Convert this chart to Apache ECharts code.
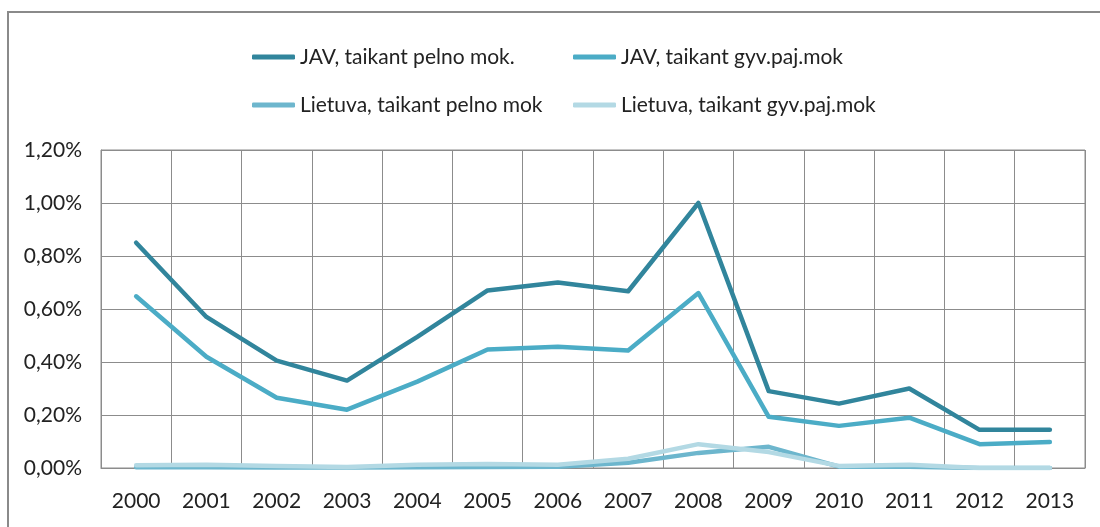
<!DOCTYPE html>
<html>
<head>
<meta charset="utf-8">
<script src="https://cdn.jsdelivr.net/npm/echarts@6/dist/echarts.min.js"></script>
<style>
  html, body { margin: 0; padding: 0; background: #fff; }
  #wrap { position: relative; width: 1100px; height: 527px; }
  #chart { position: absolute; left: 0; top: 0; width: 1100px; height: 527px; }
  #frame { position: absolute; left: 7px; top: 11px; width: 1100px; height: 530px;
           border-top: 2px solid #8a8a8a; border-left: 2px solid #8a8a8a; pointer-events: none; }
</style>
</head>
<body>
<div id="wrap">
  <div id="chart"></div>
  <div id="frame"></div>
</div>
<script>
// Years on the horizontal axis
const years = ['2000','2001','2002','2003','2004','2005','2006','2007','2008','2009','2010','2011','2012','2013'];

// Series names
const seriesNames = [
  'JAV, taikant pelno mok.',
  'JAV, taikant gyv.paj.mok',
  'Lietuva, taikant pelno mok',
  'Lietuva, taikant gyv.paj.mok'
];

// Values in percent
const usProfitTax   = [0.85, 0.57, 0.405, 0.33, 0.495, 0.67, 0.70, 0.667, 1.00, 0.29, 0.243, 0.30, 0.144, 0.144];
const usIncomeTax   = [0.648, 0.42, 0.265, 0.22, 0.326, 0.447, 0.458, 0.443, 0.66, 0.193, 0.159, 0.19, 0.09, 0.098];
const ltProfitTax   = [0.003, 0.003, 0.002, 0.002, 0.003, 0.004, 0.005, 0.02, 0.057, 0.08, 0.005, 0.005, 0.0, 0.0];
const ltIncomeTax   = [0.01, 0.012, 0.008, 0.004, 0.012, 0.015, 0.012, 0.035, 0.09, 0.06, 0.008, 0.012, 0.0, 0.0];

// Y axis ticks
const yMin = 0, yMax = 1.2, yStep = 0.2;

const colors = ['#31859C', '#4BACC6', '#6DB6CD', '#B3D9E4'];
const font = 'Lato, "Open Sans", sans-serif';

const chart = echarts.init(document.getElementById('chart'), null, { renderer: 'canvas' });

const legendPos = [
  { left: 247, top: 40 },
  { left: 568, top: 40 },
  { left: 247, top: 88 },
  { left: 568, top: 88 }
];

const legends = seriesNames.map((name, i) => ({
  data: [name],
  left: legendPos[i].left,
  top: legendPos[i].top,
  icon: 'roundRect',
  itemWidth: 43,
  itemHeight: 5,
  itemStyle: { color: colors[i] },
  textStyle: { fontFamily: font, fontSize: 21, color: '#222', lineHeight: 24 },
  selectedMode: false
}));

const data = [usProfitTax, usIncomeTax, ltProfitTax, ltIncomeTax];

chart.setOption({
  animation: false,
  color: colors,
  legend: legends,
  grid: {
    left: 101, right: 15, top: 150, bottom: 59,
    show: true, borderColor: '#8c8c8c', borderWidth: 1
  },
  xAxis: {
    type: 'category',
    data: years,
    boundaryGap: true,
    axisLine: { show: true, lineStyle: { color: '#8c8c8c', width: 1 } },
    axisTick: { show: false },
    splitLine: { show: true, lineStyle: { color: '#8c8c8c', width: 1 } },
    axisLabel: { fontFamily: font, fontSize: 21, color: '#222', margin: 23 }
  },
  yAxis: {
    type: 'value',
    min: yMin, max: yMax, interval: yStep,
    axisLine: { show: true, lineStyle: { color: '#8c8c8c', width: 1 } },
    axisTick: { show: false },
    splitLine: { show: true, lineStyle: { color: '#8c8c8c', width: 1 } },
    axisLabel: {
      fontFamily: font, fontSize: 21, color: '#222', margin: 19,
      formatter: v => v.toFixed(2).replace('.', ',') + '%'
    }
  },
  series: seriesNames.map((name, i) => ({
    name: name,
    type: 'line',
    data: data[i],
    symbol: 'none',
    lineStyle: { width: 4.5, color: colors[i], cap: 'round', join: 'round' },
    itemStyle: { color: colors[i] }
  }))
});
</script>
</body>
</html>
